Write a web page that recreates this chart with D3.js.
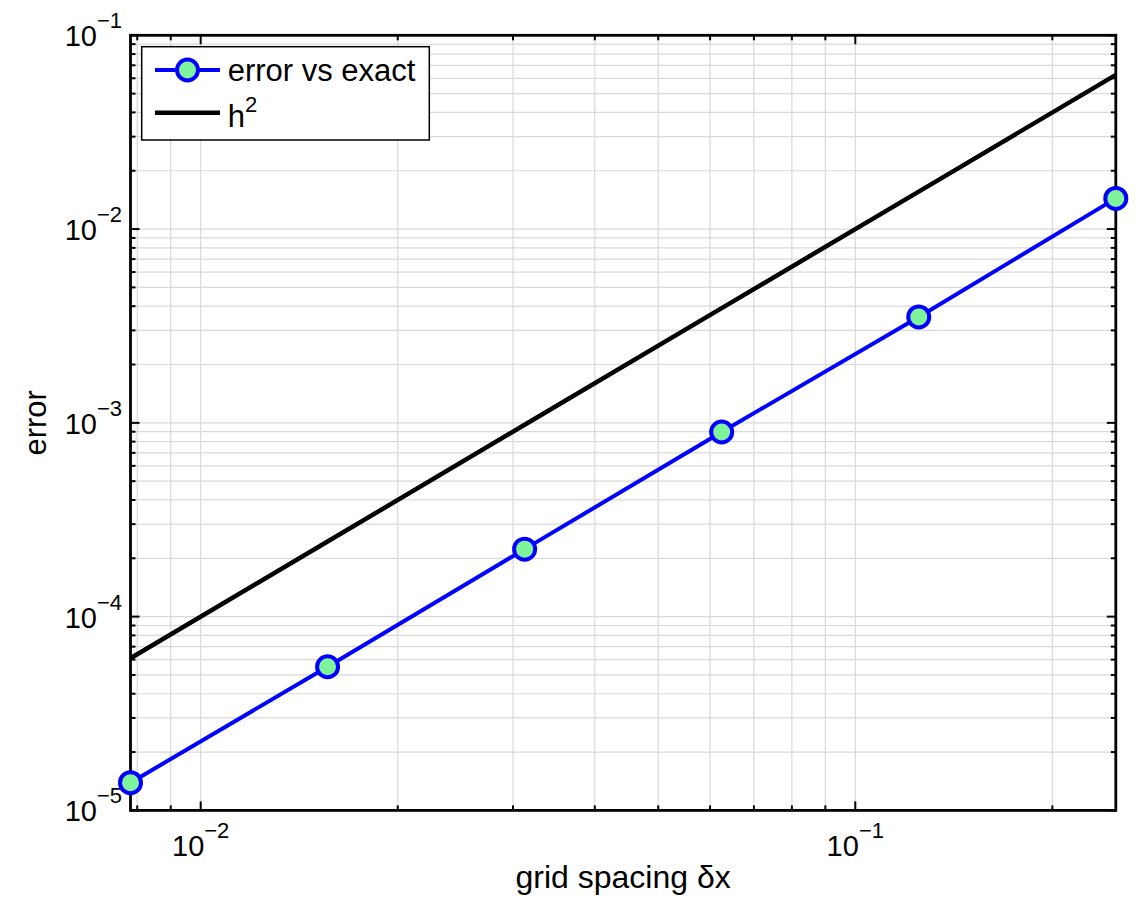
<!DOCTYPE html>
<html>
<head>
<meta charset="utf-8">
<style>
body { margin: 0; background: #fff; }
svg { font-family: "Liberation Sans", Arial, Helvetica, sans-serif; }
.grid line { stroke: #d9d9d9; stroke-width: 1.2; }
.tick-mark { stroke: #000; stroke-width: 2; }
.frame { fill: none; stroke: #000; stroke-width: 2.8; }
</style>
</head>
<body>
<svg width="1140" height="898"></svg>
<script src="https://cdn.jsdelivr.net/npm/d3@7"></script>
<script>
// grid spacing (x) and values
var dx = [0.0078125, 0.015625, 0.03125, 0.0625, 0.125, 0.25];
var errVals = [1.39e-5, 5.51e-5, 2.23e-4, 8.97e-4, 3.52e-3, 1.44e-2];
var h2Vals = [6.1e-5, 2.44e-4, 9.77e-4, 3.91e-3, 1.56e-2, 6.25e-2];
var xMajor = [1e-2, 1e-1];
var xMajorLabels = ["−2", "−1"];
var yMajor = [1e-5, 1e-4, 1e-3, 1e-2, 1e-1];
var yMajorLabels = ["−5", "−4", "−3", "−2", "−1"];
var legendLabels = ["error vs exact", "h"];

var svg = d3.select("svg");
// plot box
var pLeft = 130.5, pRight = 1115.8, pTop = 35.3, pBottom = 810.4;

var x = d3.scaleLog().domain([dx[0], dx[dx.length - 1]]).range([pLeft, pRight]);
var y = d3.scaleLog().domain([1e-5, 1e-1]).range([pBottom, pTop]);

// minor + major gridlines
var grid = svg.append("g").attr("class", "grid");
grid.selectAll(".gx").data(x.ticks()).enter().append("line")
  .attr("x1", d => x(d)).attr("x2", d => x(d))
  .attr("y1", pTop).attr("y2", pBottom);
grid.selectAll(".gy").data(y.ticks()).enter().append("line")
  .attr("y1", d => y(d)).attr("y2", d => y(d))
  .attr("x1", pLeft).attr("x2", pRight);

// inward ticks on all four sides
var isMajor = d => Math.abs(Math.log10(d) - Math.round(Math.log10(d))) < 1e-6;
var ticks = svg.append("g");
x.ticks().forEach(function(d) {
  var len = isMajor(d) ? 9 : 5;
  ticks.append("line").attr("class", "tick-mark")
    .attr("x1", x(d)).attr("x2", x(d)).attr("y1", pBottom).attr("y2", pBottom - len);
  ticks.append("line").attr("class", "tick-mark")
    .attr("x1", x(d)).attr("x2", x(d)).attr("y1", pTop).attr("y2", pTop + len);
});
y.ticks().forEach(function(d) {
  var len = isMajor(d) ? 9 : 5;
  ticks.append("line").attr("class", "tick-mark")
    .attr("y1", y(d)).attr("y2", y(d)).attr("x1", pLeft).attr("x2", pLeft + len);
  ticks.append("line").attr("class", "tick-mark")
    .attr("y1", y(d)).attr("y2", y(d)).attr("x1", pRight).attr("x2", pRight - len);
});

// tick labels 10^k
xMajor.forEach(function(d, i) {
  var t = svg.append("text").attr("x", x(d)).attr("y", 856)
    .attr("text-anchor", "middle").attr("fill", "#000");
  t.append("tspan").attr("font-size", 29).text("10");
  t.append("tspan").attr("font-size", 22).attr("dy", -18).text(xMajorLabels[i]);
});
yMajor.forEach(function(d, i) {
  var t = svg.append("text").attr("x", 122).attr("y", y(d) + 11)
    .attr("text-anchor", "end").attr("fill", "#000");
  t.append("tspan").attr("font-size", 29).text("10");
  t.append("tspan").attr("font-size", 22).attr("dy", -18).text(yMajorLabels[i]);
});

// axis titles
svg.append("text").attr("x", (pLeft + pRight) / 2).attr("y", 888)
  .attr("text-anchor", "middle").attr("font-size", 32).text("grid spacing δx");
svg.append("text").attr("transform", "translate(46," + (pTop + pBottom) / 2 + ") rotate(-90)")
  .attr("text-anchor", "middle").attr("font-size", 31).text("error");

// series
var line = d3.line().x(d => x(d[0])).y(d => y(d[1]));
svg.append("path").datum(d3.zip(dx, h2Vals)).attr("d", line)
  .attr("fill", "none").attr("stroke", "#000").attr("stroke-width", 4.5);
svg.append("path").datum(d3.zip(dx, errVals)).attr("d", line)
  .attr("fill", "none").attr("stroke", "#0000ff").attr("stroke-width", 4);

// frame drawn over the grid
svg.append("rect").attr("class", "frame")
  .attr("x", pLeft).attr("y", pTop).attr("width", pRight - pLeft).attr("height", pBottom - pTop);

// markers sit over the frame
svg.selectAll(".pt").data(d3.zip(dx, errVals)).enter().append("circle")
  .attr("cx", d => x(d[0])).attr("cy", d => y(d[1])).attr("r", 10.5)
  .attr("fill", "#7ff59b").attr("stroke", "#0000ff").attr("stroke-width", 4);

// legend
var lg = svg.append("g");
lg.append("rect").attr("x", 141.7).attr("y", 46.7).attr("width", 287.6).attr("height", 93.3)
  .attr("fill", "#fff").attr("stroke", "#000").attr("stroke-width", 1.5);
lg.append("line").attr("x1", 155).attr("x2", 220).attr("y1", 70).attr("y2", 70)
  .attr("stroke", "#0000ff").attr("stroke-width", 4);
lg.append("circle").attr("cx", 187.5).attr("cy", 70).attr("r", 10.5)
  .attr("fill", "#7ff59b").attr("stroke", "#0000ff").attr("stroke-width", 4);
lg.append("text").attr("x", 227.7).attr("y", 81).attr("font-size", 31).text(legendLabels[0]);
lg.append("line").attr("x1", 155).attr("x2", 220).attr("y1", 112.7).attr("y2", 112.7)
  .attr("stroke", "#000").attr("stroke-width", 4.5);
var ht = lg.append("text").attr("x", 227.7).attr("y", 126.7);
ht.append("tspan").attr("font-size", 31).text(legendLabels[1]);
ht.append("tspan").attr("font-size", 22).attr("dy", -15).text("2");
</script>
</body>
</html>
